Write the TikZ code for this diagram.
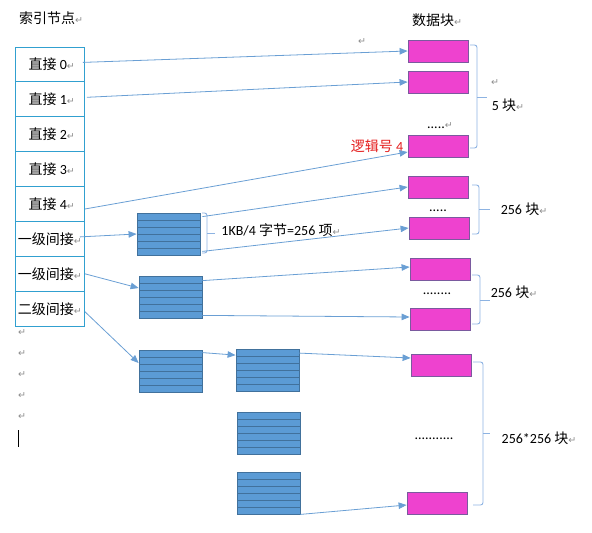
\documentclass[tikz,border=0pt]{standalone}
\usepackage{fontspec}
\setmainfont{Carlito}
\newfontfamily\cjk{Noto Sans CJK SC}
\newfontfamily\symf{DejaVu Sans}
\usetikzlibrary{arrows.meta,calc}
\definecolor{cellc}{HTML}{31A0D0}
\definecolor{magf}{HTML}{EE42CF}
\definecolor{magd}{HTML}{7A5A9E}
\definecolor{ibf}{HTML}{5B9BD5}
\definecolor{ibd}{HTML}{41719C}
\definecolor{lnc}{HTML}{6A9FD4}
\definecolor{brc}{HTML}{8DB3E2}
\definecolor{redt}{HTML}{E41E1E}
\definecolor{retc}{HTML}{8C8C8C}
\newcommand{\pmark}{{\symf\fontsize{9.5}{9.5}\selectfont\color{retc}↵}}
\tikzset{
  cell/.style={draw=cellc, line width=0.8pt, minimum width=69.5pt, minimum height=34.9pt, inner sep=0pt},
  datablk/.style={draw=magd, fill=magf, line width=0.8pt, minimum width=60pt, minimum height=22pt, inner sep=0pt},
  iblk/.style={draw=ibd, fill=ibf, line width=0.8pt, minimum width=63pt, minimum height=42pt, inner sep=0pt,
    path picture={\foreach \k in {1,...,5}{\draw[ibd, line width=0.8pt]
      ($(path picture bounding box.north west)!\k/6!(path picture bounding box.south west)$) --
      ($(path picture bounding box.north east)!\k/6!(path picture bounding box.south east)$);}}},
  conn/.style={draw=lnc, line width=0.8pt, -{Triangle[length=8pt,width=6.5pt]}},
  brace/.style={draw=brc, line width=0.9pt, rounded corners=2.5pt},
  lbl/.style={inner sep=0pt},
  pm/.style={inner sep=0pt}
}
\begin{document}
\begin{tikzpicture}[x=1pt,y=-1pt,font=\fontsize{14}{16}\selectfont]
\useasboundingbox (0,0) rectangle (592,533);
% titles
\node[lbl] (t1) at (51,18) {{\cjk 索引节点}\pmark};
\node[lbl] (t2) at (437,20) {{\cjk 数据块}\pmark};
% index table
\node[cell] (r0) at (49.75,64.4) {\hspace*{4pt}{\cjk 直接} 0\pmark};
\node[cell] (r1) at (49.75,99.3) {\hspace*{4pt}{\cjk 直接} 1\pmark};
\node[cell] (r2) at (49.75,134.2) {\hspace*{4pt}{\cjk 直接} 2\pmark};
\node[cell] (r3) at (49.75,169.1) {\hspace*{4pt}{\cjk 直接} 3\pmark};
\node[cell] (r4) at (49.75,204.0) {\hspace*{4pt}{\cjk 直接} 4\pmark};
\node[cell] (r5) at (49.75,238.9) {{\cjk 一级间接}\pmark};
\node[cell] (r6) at (49.75,273.8) {{\cjk 一级间接}\pmark};
\node[cell] (r7) at (49.75,308.7) {{\cjk 二级间接}\pmark};
% stray paragraph marks
\node[pm] (p1) at (22,333) {\pmark};
\node[pm] (p2) at (22,354) {\pmark};
\node[pm] (p3) at (22,375) {\pmark};
\node[pm] (p4) at (22,396) {\pmark};
\node[pm] (p5) at (22,417) {\pmark};
\coordinate (cur1) at (18,430);
\coordinate (cur2) at (18,447);
\draw[black, line width=0.9pt] (cur1) -- (cur2);
\node[pm] (p6) at (362,42) {\pmark};
\node[pm] (p7) at (495,83) {\pmark};
% index blocks
\node[iblk] (b1) at (168.5,234) {};
\node[iblk] (b2) at (170.5,297) {};
\node[iblk] (b3) at (170.5,371) {};
\node[iblk] (b4) at (267.5,370.5) {};
\node[iblk] (b5) at (268.5,433) {};
\node[iblk] (b6) at (268.5,493) {};
% data blocks
\node[datablk] (d1) at (438,51) {};
\node[datablk] (d2) at (438,82) {};
\node[datablk] (d3) at (438,146) {};
\node[datablk] (d4) at (438,187) {};
\node[datablk] (d5) at (439,228) {};
\node[datablk] (d6) at (440,269) {};
\node[datablk] (d7) at (440,319) {};
\node[datablk] (d8) at (441,365) {};
\node[datablk] (d9) at (437,503) {};
% dots
\node[lbl] (e1) at (440,126) {.....\pmark};
\node[lbl] (e2) at (438,211) {.....};
\node[lbl] (e3) at (437,294) {........};
\node[lbl] (e4) at (434,439) {...........};
% labels
\node[lbl, text=redt] (lg) at (377,146) {{\cjk 逻辑号} 4};
\node[lbl] (l1) at (508,105) {5 {\cjk 块}\pmark};
\node[lbl] (l2) at (524,209) {256 {\cjk 块}\pmark};
\node[lbl] (l3) at (514,292) {256 {\cjk 块}\pmark};
\node[lbl] (l4) at (539,438) {256*256 {\cjk 块}\pmark};
\node[lbl] (l5) at (281,230) {1KB/4 {\cjk 字节}=256 {\cjk 项}\pmark};
% braces
\draw[brace] (470,45) -- (477,45) -- (477,148) -- (470,148);
\draw[draw=brc, line width=0.9pt] (477,97) -- (487,97);
\draw[brace] (472,185) -- (479,185) -- (479,234) -- (472,234);
\draw[draw=brc, line width=0.9pt] (479,209) -- (490,209);
\draw[brace] (472,275) -- (480,275) -- (480,324) -- (472,324);
\draw[draw=brc, line width=0.9pt] (480,300) -- (490,300);
\draw[brace] (473,362) -- (483,362) -- (483,505) -- (473,505);
\draw[draw=brc, line width=0.9pt] (483,433) -- (490,433);
\draw[brace] (202,213) -- (207,213) -- (207,253) -- (202,253);
\draw[draw=brc, line width=0.9pt] (207,233) -- (215,233);
% connectors
\draw[conn] ([xshift=-2pt,yshift=2pt]r0.east) -- (d1.west);
\draw[conn] ([xshift=2pt,yshift=2pt]r1.east) -- (d2.west);
\draw[conn] ([yshift=-5pt]r4.east) -- ([yshift=-6pt]d3.west);
\draw[conn] ([xshift=-5pt,yshift=2pt]r5.east) -- (b1.west);
\draw[conn] (r6.east) -- ([yshift=9pt]b2.west);
\draw[conn] ([yshift=-3pt]r7.east) -- ([yshift=8pt]b3.west);
\draw[conn] ([xshift=2pt,yshift=-4pt]b1.north east) -- (d4.west);
\draw[conn] ([xshift=2pt,yshift=4pt]b1.south east) -- (d5.west);
\draw[conn] ([yshift=-5pt]b2.north east) -- ([yshift=2pt]d6.west);
\draw[conn] ([yshift=3pt]b2.south east) -- ([yshift=2pt]d7.west);
\draw[conn] ([yshift=-3pt]b3.north east) -- ([yshift=-6pt]b4.north west);
\draw[conn] ([yshift=-4pt]b4.north east) -- ([yshift=7pt]d8.west);
\draw[conn] (b6.south east) -- ([yshift=-2pt]d9.west);
\end{tikzpicture}
\end{document}
